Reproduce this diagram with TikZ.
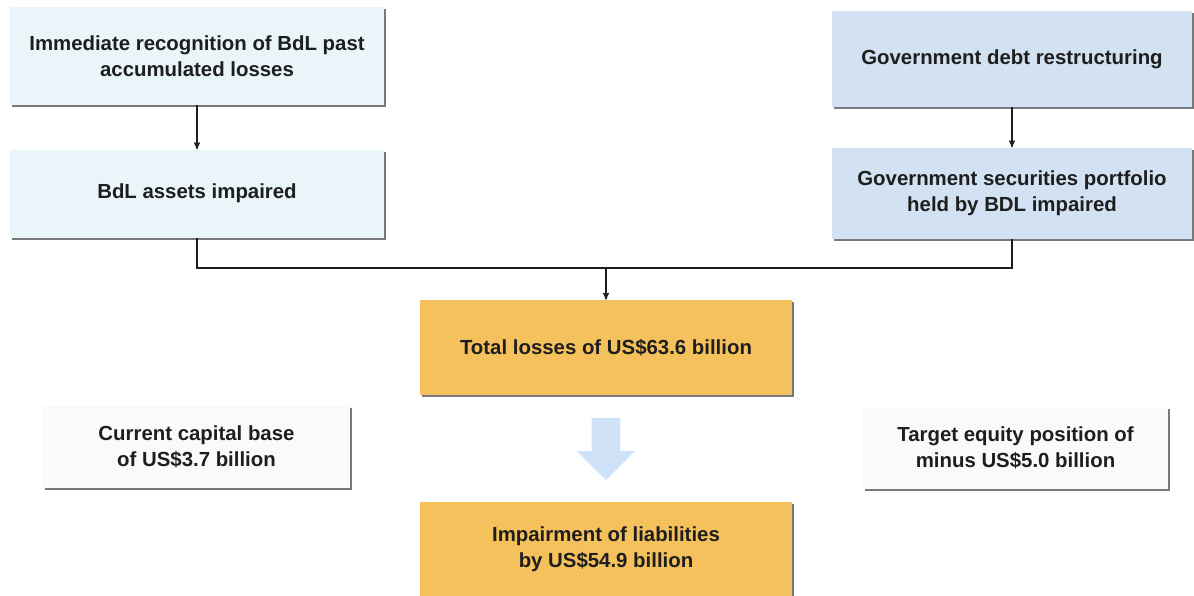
\documentclass[tikz,border=0pt]{standalone}
\usepackage{fontspec}
\setmainfont{Liberation Sans}
\usetikzlibrary{arrows}
\usetikzlibrary{positioning}
\usetikzlibrary{shadows}
\usetikzlibrary{shapes.arrows}
\definecolor{palecyan}{HTML}{E9F5F8}
\definecolor{paleblue}{HTML}{D2E2F3}
\definecolor{lossorange}{HTML}{F5C15C}
\definecolor{sidewhite}{HTML}{FAFAFA}
\definecolor{flowblue}{HTML}{CFE2F7}
\definecolor{inkgray}{HTML}{1E1E1E}

\begin{document}
\begin{tikzpicture}[>=stealth',x=0.025cm,y=-0.025cm,node distance=1.1cm,
	box/.style={align=center,inner sep=0pt,text=inkgray,
		font=\bfseries\fontsize{14.5}{18.5}\selectfont,
		drop shadow={shadow xshift=1.4pt,shadow yshift=-1.6pt,fill=black!70,opacity=0.75}},
	cyanbox/.style={box,fill=palecyan,minimum width=9.35cm},
	bluebox/.style={box,fill=paleblue,minimum width=9cm},
	lossbox/.style={box,fill=lossorange,minimum width=9.3cm,minimum height=2.375cm},
	sidebox/.style={box,fill=sidewhite,minimum height=2.05cm},
	bigdown/.style={single arrow,fill=flowblue,draw=none,inner sep=0.35cm,
		minimum height=1.55cm,single arrow head extend=0.375cm,rotate=-90}]
	\useasboundingbox (0,0) rectangle (1194,595);
	\node[cyanbox, minimum height=2.45cm] (recog) at (197,56) {Immediate recognition of BdL past\\accumulated losses};
	\node[cyanbox, minimum height=2.2cm] (assets) [below=1.1cm of recog] {BdL assets impaired};
	\node[bluebox, minimum height=2.4cm] (debt) at (1012,59) {Government debt restructuring};
	\node[bluebox, minimum height=2.275cm] (secur) [below=1cm of debt] {Government securities portfolio\\held by BDL impaired};
	\node[lossbox] (total) at (606,347.5) {Total losses of US\$63.6 billion};
	\node[lossbox] (impair) at (606,549.5) {Impairment of liabilities\\by US\$54.9 billion};
	\node[sidebox, minimum width=7.675cm] (capital) at (196.5,446.5) {Current capital base\\of US\$3.7 billion};
	\node[sidebox, minimum width=7.625cm] (target) at (1015.5,447.5) {Target equity position of\\minus US\$5.0 billion};
	\node[bigdown] (step) at (606,442) {};
	\coordinate (join) at (606,268);
	\path[->,thick,inkgray] (recog) edge (assets)
			(debt) edge (secur)
			(join) edge (total);
	\draw[thick,inkgray] (assets.south) |- (join) -| (secur.south);
\end{tikzpicture}
\end{document}
